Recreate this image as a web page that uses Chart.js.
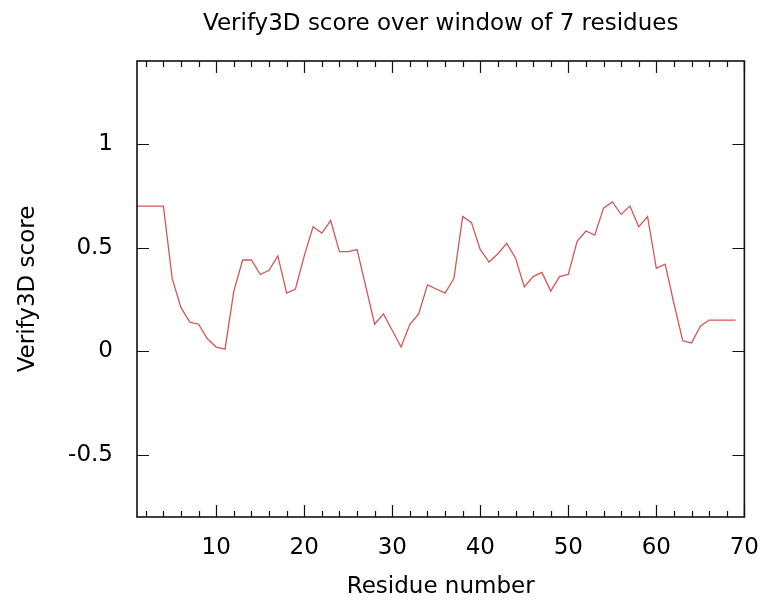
<!DOCTYPE html>
<html lang="en">
<head>
    <meta charset="UTF-8">
    <title>Verify3D score over window of 7 residues</title>
    <script src="https://cdn.jsdelivr.net/npm/chart.js"></script>
    <style>
        body { margin: 0; background: #fff; }
    </style>
</head>
<body>
    <canvas id="myChart" width="768" height="603"></canvas>
    <script>
        // residue numbers and averaged Verify3D scores
        const residues = [
            1, 2, 3, 4, 5, 6, 7, 8, 9, 10,
            11, 12, 13, 14, 15, 16, 17, 18, 19, 20,
            21, 22, 23, 24, 25, 26, 27, 28, 29, 30,
            31, 32, 33, 34, 35, 36, 37, 38, 39, 40,
            41, 42, 43, 44, 45, 46, 47, 48, 49, 50,
            51, 52, 53, 54, 55, 56, 57, 58, 59, 60,
            61, 62, 63, 64, 65, 66, 67, 68, 69
        ];
        const scores = [
            0.70, 0.70, 0.70, 0.70, 0.35, 0.21, 0.14, 0.13, 0.06, 0.02,
            0.01, 0.29, 0.44, 0.44, 0.37, 0.39, 0.46, 0.28, 0.30, 0.46,
            0.60, 0.57, 0.63, 0.48, 0.48, 0.49, 0.31, 0.13, 0.18, 0.10,
            0.02, 0.13, 0.18, 0.32, 0.30, 0.28, 0.35, 0.65, 0.62, 0.49,
            0.43, 0.47, 0.52, 0.45, 0.31, 0.36, 0.38, 0.29, 0.36, 0.37,
            0.53, 0.58, 0.56, 0.69, 0.72, 0.66, 0.70, 0.60, 0.65, 0.40,
            0.42, 0.23, 0.05, 0.04, 0.12, 0.15, 0.15, 0.15, 0.15
        ];
        const xTicks = [10, 20, 30, 40, 50, 60, 70];
        const yTicks = [-0.5, 0, 0.5, 1];

        // gnuplot style frame with inward ticks
        const frameTicks = {
            id: 'frameTicks',
            afterDatasetsDraw(chart) {
                const { ctx, chartArea: a, scales: { x, y } } = chart;
                ctx.save();
                ctx.strokeStyle = '#111';
                ctx.lineWidth = 1.2;
                ctx.beginPath();
                for (let v = 2; v <= 70; v += 2) {
                    const px = Math.round(x.getPixelForValue(v)) + 0.5;
                    const len = v % 10 === 0 ? 12 : 6;
                    ctx.moveTo(px, a.bottom);
                    ctx.lineTo(px, a.bottom - len);
                    ctx.moveTo(px, a.top);
                    ctx.lineTo(px, a.top + len);
                }
                yTicks.forEach(v => {
                    const py = Math.round(y.getPixelForValue(v)) + 0.5;
                    ctx.moveTo(a.left, py);
                    ctx.lineTo(a.left + 12, py);
                    ctx.moveTo(a.right, py);
                    ctx.lineTo(a.right - 12, py);
                });
                ctx.stroke();
                ctx.lineWidth = 1.6;
                ctx.strokeRect(a.left, a.top, a.right - a.left, a.bottom - a.top);
                ctx.restore();
            }
        };

        Chart.defaults.font.family = "'DejaVu Sans', sans-serif";
        Chart.defaults.font.size = 23;
        Chart.defaults.color = '#000';

        const ctx = document.getElementById('myChart').getContext('2d');
        const myChart = new Chart(ctx, {
            type: 'line',
            data: {
                datasets: [{
                    label: 'Verify3D score',
                    data: residues.map((r, i) => ({ x: r, y: scores[i] })),
                    borderColor: '#d65656',
                    borderWidth: 1.3,
                    pointRadius: 0,
                    tension: 0,
                    fill: false
                }]
            },
            options: {
                responsive: false,
                animation: false,
                layout: { padding: { left: 0, right: 18, top: 0, bottom: 0 } },
                plugins: {
                    legend: { display: false },
                    tooltip: { enabled: false },
                    title: {
                        display: true,
                        text: 'Verify3D score over window of 7 residues',
                        fullSize: false,
                        font: { size: 23, weight: 'normal' },
                        padding: { top: 10, bottom: 23.4 }
                    }
                },
                scales: {
                    x: {
                        type: 'linear',
                        min: 1,
                        max: 70,
                        afterBuildTicks: s => { s.ticks = xTicks.map(v => ({ value: v })); },
                        afterFit: s => { s.height = 86; },
                        grid: { display: false },
                        border: { display: false },
                        ticks: { autoSkip: false, maxRotation: 0, padding: 9 },
                        title: {
                            display: true,
                            text: 'Residue number',
                            padding: { top: 0, bottom: 2 }
                        }
                    },
                    y: {
                        min: -0.8,
                        max: 1.4,
                        afterBuildTicks: s => { s.ticks = yTicks.map(v => ({ value: v })); },
                        afterFit: s => { s.width = 137; },
                        grid: { display: false },
                        border: { display: false },
                        ticks: { padding: 16, callback: v => String(v) },
                        title: {
                            display: true,
                            text: 'Verify3D score',
                            padding: { top: 14, bottom: 0 }
                        }
                    }
                }
            },
            plugins: [frameTicks]
        });
    </script>
</body>
</html>
